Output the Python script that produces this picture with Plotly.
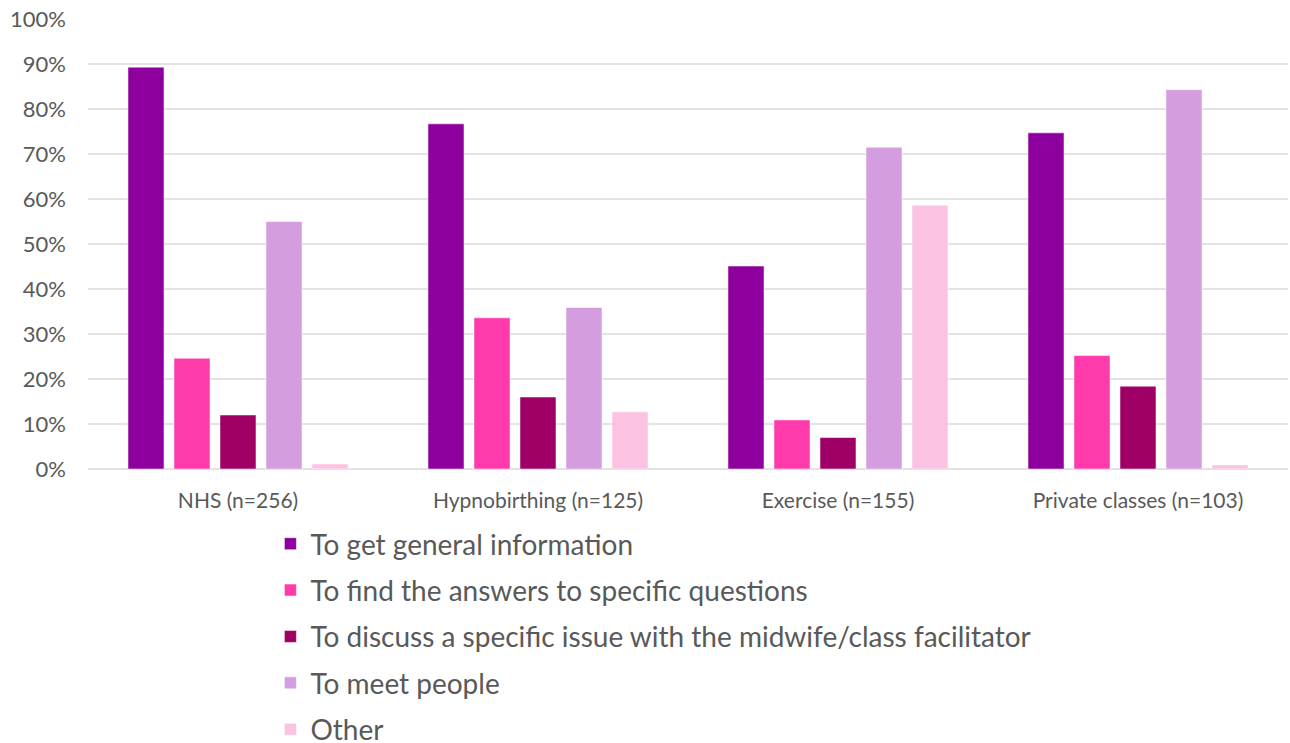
import plotly.graph_objects as go

# Survey responses: reasons for attending each type of antenatal class
categories = ["NHS (n=256)", "Hypnobirthing (n=125)", "Exercise (n=155)", "Private classes (n=103)"]

general_info = [0.893, 0.767, 0.451, 0.747]
specific_questions = [0.246, 0.336, 0.109, 0.252]
discuss_issue = [0.120, 0.160, 0.070, 0.184]
meet_people = [0.550, 0.359, 0.715, 0.843]
other = [0.011, 0.127, 0.586, 0.009]

series_names = [
    "To get general information",
    "To find the answers to specific questions",
    "To discuss a specific issue with the midwife/class facilitator",
    "To meet people",
    "Other",
]
series_values = [general_info, specific_questions, discuss_issue, meet_people, other]
series_colors = ["#8E009E", "#FF3AAB", "#9E0066", "#D49DE0", "#FCC2E2"]

TEXT = "#595959"
FONT = "Lato"

fig = go.Figure()
for i, (name, vals, col) in enumerate(zip(series_names, series_values, series_colors)):
    fig.add_trace(go.Bar(
        x=categories,
        y=vals,
        name=name,
        legendgroup=f"g{i}",
        marker=dict(color=col, line=dict(color="rgba(255,255,255,0.5)", width=1)),
    ))

fig.update_layout(
    width=1290,
    height=743,
    margin=dict(l=88, r=2, t=19, b=274, autoexpand=False),
    paper_bgcolor="white",
    plot_bgcolor="white",
    barmode="group",
    bargap=0.2333,
    bargroupgap=0.217,
    font=dict(family=FONT, color=TEXT),
    showlegend=True,
    legend=dict(
        orientation="v",
        traceorder="grouped",
        tracegroupgap=7,
        x=0.152,
        xanchor="left",
        y=-0.111,
        yanchor="top",
        font=dict(family=FONT, size=28, color=TEXT),
        bgcolor="rgba(0,0,0,0)",
    ),
    xaxis=dict(
        showgrid=False,
        showline=False,
        ticks="",
        ticklabelstandoff=17,
        tickfont=dict(family=FONT, size=21, color=TEXT),
    ),
    yaxis=dict(
        range=[0, 1.0],
        tickvals=[i / 10 for i in range(11)],
        tickformat=".0%",
        showgrid=True,
        gridcolor="#E3E3E3",
        gridwidth=1.5,
        zeroline=True,
        zerolinecolor="#E3E3E3",
        zerolinewidth=1.5,
        showline=False,
        ticks="",
        ticklabelstandoff=21,
        tickfont=dict(family=FONT, size=22, color=TEXT),
    ),
)

fig.write_html("out.html")
